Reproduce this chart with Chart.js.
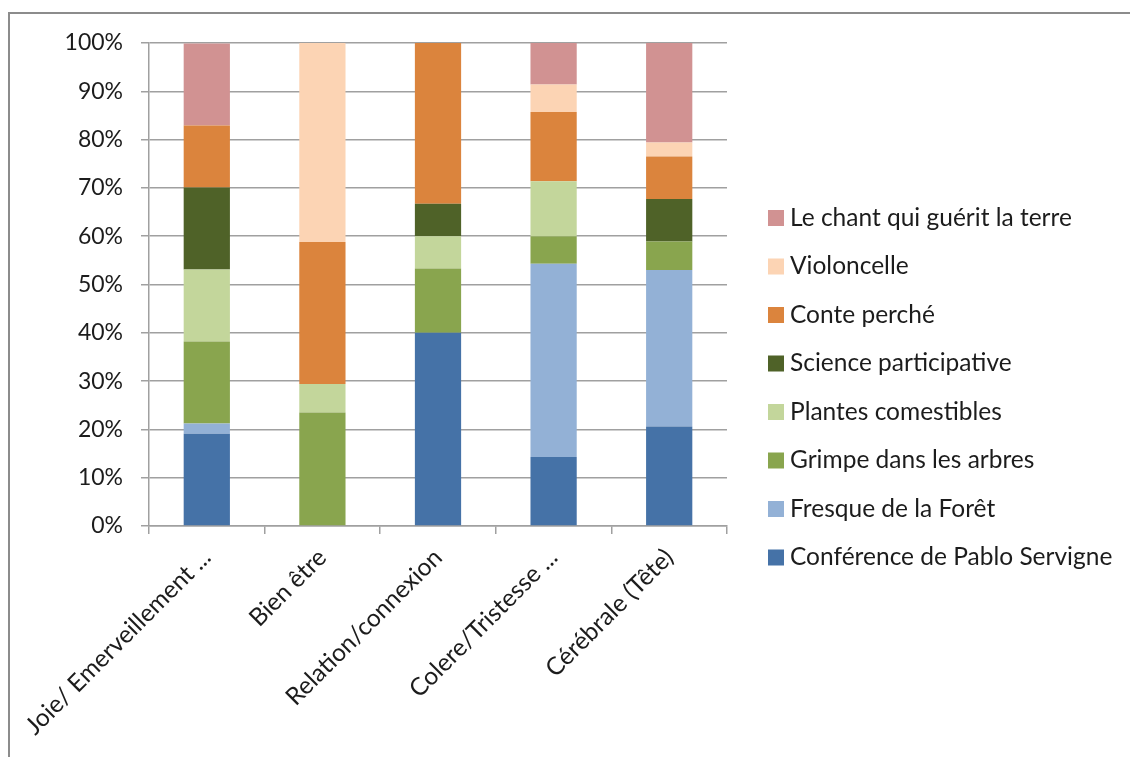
<!DOCTYPE html>
<html>
<head>
<meta charset="utf-8">
<script src="https://cdn.jsdelivr.net/npm/chart.js@4/dist/chart.umd.min.js"></script>
<style>
  html, body { margin: 0; padding: 0; background: #fff; }
  #wrap { position: relative; width: 1130px; height: 757px; overflow: hidden; }
  #frame { position: absolute; left: 8px; top: 12px; width: 1200px; height: 800px;
           border: 2px solid #8c8c8c; box-sizing: border-box; }
  #chart { position: absolute; left: 0; top: 0; }
</style>
</head>
<body>
<div id="wrap">
  <div id="frame"></div>
  <canvas id="chart" width="1130" height="757"></canvas>
</div>
<script>
// Répartition (%) des ateliers par ressenti
var categories = ['Joie/ Emerveillement ...', 'Bien être', 'Relation/connexion', 'Colere/Tristesse ...', 'Cérébrale (Tête)'];

var conference  = [19.1, 0,    40.0, 14.3, 20.6];
var fresque     = [2.1,  0,    0,    40.0, 32.4];
var grimpe      = [17.0, 23.5, 13.3, 5.7,  5.9];
var plantes     = [14.9, 5.9,  6.7,  11.4, 0];
var science     = [17.0, 0,    6.7,  0,    8.8];
var conte       = [12.8, 29.4, 33.3, 14.3, 8.8];
var violoncelle = [0,    41.2, 0,    5.7,  2.9];
var chant       = [17.0, 0,    0,    8.6,  20.6];

var yTicks = [0, 10, 20, 30, 40, 50, 60, 70, 80, 90, 100];

var font = { family: 'Lato', size: 23 };
var bigFont = { family: 'Lato', size: 24.5 };
var ink = '#1c1c1c';
var grey = '#a0a0a0';

function serie(label, data, color) {
    return { label: label, data: data, backgroundColor: color, borderWidth: 0,
             barPercentage: 0.4, categoryPercentage: 1 };
}

// légende à droite, dernière série en haut (celle de Chart.js est bridée en largeur)
var sideLegend = {
    id: 'sideLegend',
    afterDraw: function (chart) {
        var ctx = chart.ctx;
        var x = chart.chartArea.right + 41;
        var y = 218;
        var sets = chart.data.datasets.slice().reverse();
        ctx.save();
        ctx.font = bigFont.size + 'px ' + bigFont.family;
        ctx.textBaseline = 'middle';
        ctx.textAlign = 'left';
        sets.forEach(function (ds, i) {
            var cy = y + i * 48.5;
            ctx.fillStyle = ds.backgroundColor;
            ctx.fillRect(x, cy - 8, 16, 16);
            ctx.fillStyle = ink;
            ctx.fillText(ds.label, x + 22, cy);
        });
        ctx.restore();
    }
};

function draw() {
    new Chart(document.getElementById('chart'), {
        type: 'bar',
        data: {
            labels: categories,
            datasets: [
                serie('Conférence de Pablo Servigne', conference, '#4572a7'),
                serie('Fresque de la Forêt', fresque, '#93b1d6'),
                serie('Grimpe dans les arbres', grimpe, '#89a54e'),
                serie('Plantes comestibles', plantes, '#c3d69b'),
                serie('Science participative', science, '#4f6228'),
                serie('Conte perché', conte, '#db843d'),
                serie('Violoncelle', violoncelle, '#fcd4b4'),
                serie('Le chant qui guérit la terre', chant, '#d19292')
            ]
        },
        options: {
            responsive: false,
            animation: false,
            layout: { padding: { top: 43, right: 403, bottom: 0, left: 0 } },
            plugins: {
                tooltip: { enabled: false },
                legend: { display: false }
            },
            scales: {
                x: {
                    stacked: true,
                    border: { color: grey, width: 1.5 },
                    grid: { offset: true, drawOnChartArea: false, drawTicks: true, tickLength: 8, color: grey, lineWidth: 1.5 },
                    ticks: { color: ink, font: bigFont, maxRotation: 45, minRotation: 45, padding: 9 },
                    afterFit: function (s) { s.height = 231; }
                },
                y: {
                    stacked: true,
                    min: 0,
                    max: 100,
                    border: { color: grey, width: 1.5 },
                    grid: { color: grey, lineWidth: 1.5, tickLength: 8 },
                    afterBuildTicks: function (s) { s.ticks = yTicks.map(function (v) { return { value: v }; }); },
                    ticks: { color: ink, font: font, padding: 18,
                             callback: function (v) { return v + '%'; } },
                    afterFit: function (s) { s.width = 149; }
                }
            }
        },
        plugins: [sideLegend]
    });
}

document.fonts.load('24.5px Lato').then(draw, draw);
</script>
</body>
</html>
